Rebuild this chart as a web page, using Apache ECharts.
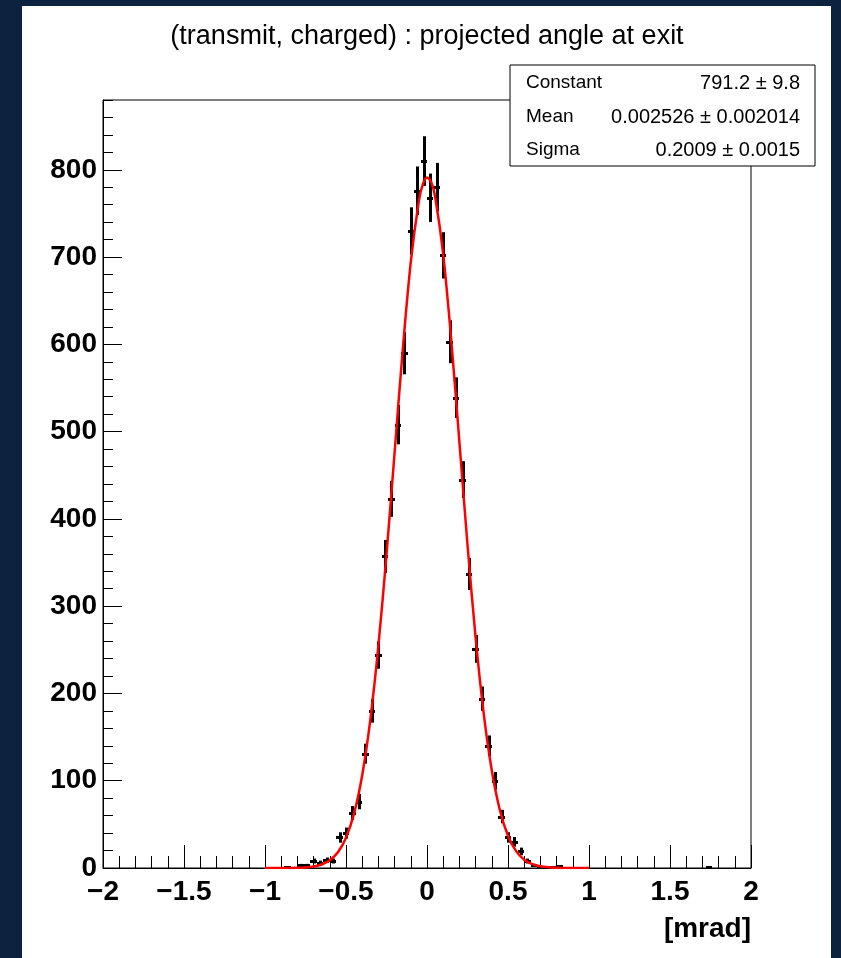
<!DOCTYPE html>
<html>
<head>
<meta charset="utf-8">
<script src="https://cdn.jsdelivr.net/npm/echarts@6/dist/echarts.min.js"></script>
<style>
html,body{margin:0;padding:0;background:#0c2340;width:841px;height:958px;overflow:hidden;}
#c{position:absolute;left:22px;top:6px;width:809px;height:952px;background:#ffffff;}
</style>
</head>
<body>
<div id="c"></div>
<script>
// Histogram bin centres (mrad) and counts (empty bins omitted)
const binCenters = [-0.86,-0.82,-0.78,-0.74,-0.70,-0.66,-0.62,-0.58,-0.54,-0.50,-0.46,-0.42,-0.38,-0.34,-0.30,-0.26,-0.22,-0.18,-0.14,-0.10,-0.06,-0.02,0.02,0.06,0.10,0.14,0.18,0.22,0.26,0.30,0.34,0.38,0.42,0.46,0.50,0.54,0.58,0.62,0.66,0.70,0.74,0.78,0.82,1.74];
const counts     = [1,0,3,3,8,6,9,8,35,40,63,76,131,180,244,357,423,508,590,730,776,810,768,780,702,603,539,445,337,251,194,140,100,59,35,30,19,8,3,1,1,1,2,1];
const binWidth = 0.04;

// Red fit curve
const fitX = [-1.00,-0.95,-0.90,-0.85,-0.80,-0.75,-0.70,-0.65,-0.60,-0.55,-0.50,-0.45,-0.40,-0.35,-0.30,-0.25,-0.20,-0.15,-0.10,-0.05,-0.025,0.00,0.025,0.05,0.10,0.15,0.20,0.25,0.30,0.35,0.40,0.45,0.50,0.55,0.60,0.65,0.70,0.75,0.80,0.85,0.90,0.95,1.00];
const fitY = [0.0,0.01,0.03,0.1,0.27,0.71,1.75,4.05,8.8,18.0,34.7,62.6,106.3,169.7,254.7,359.1,476.1,593.2,694.6,764.6,783.8,791.1,786.3,769.4,703.3,604.3,488.0,370.4,264.3,177.2,111.7,66.2,36.9,19.3,9.5,4.39,1.91,0.78,0.30,0.11,0.04,0.01,0.0];

const xTickValues = [-2,-1.5,-1,-0.5,0,0.5,1,1.5,2];
const yTickValues = [0,100,200,300,400,500,600,700,800];

const statsLabels = ['Constant','Mean','Sigma'];
const statsValues = ['791.2 \u00b1 9.8','0.002526 \u00b1 0.002014','0.2009 \u00b1 0.0015'];

const titleText = '(transmit, charged) : projected angle at exit';
const xName = '[mrad]';

const FONT = '"Liberation Sans", Arial, Helvetica, sans-serif';
const OX = 22, OY = 6; // offset of the white canvas in the page

const chart = echarts.init(document.getElementById('c'), null, {renderer:'canvas'});

const histData = [];
binCenters.forEach((c,i)=>{ if (counts[i] > 0) histData.push([c, counts[i]]); });

const statsGraphics = [{
  type:'rect', z:100,
  shape:{x:510-OX, y:65-OY, width:305, height:101},
  style:{fill:'#ffffff', stroke:'#000000', lineWidth:1}
}];
const rowY = [83,117,150];
statsLabels.forEach((l,i)=>{
  statsGraphics.push({type:'text', z:101, x:526-OX, y:rowY[i]-OY,
    style:{text:l, font:'19px '+FONT, fill:'#000', textAlign:'left', textVerticalAlign:'middle'}});
  statsGraphics.push({type:'text', z:101, x:800-OX, y:rowY[i]-OY,
    style:{text:statsValues[i], font:'20px '+FONT, fill:'#000', textAlign:'right', textVerticalAlign:'middle'}});
});

const fmtX = v => { const r = Math.round(v*10)/10; return (r<0?'\u2212':'') + Math.abs(r); };

const option = {
  animation:false,
  backgroundColor:'#ffffff',
  grid:{left:103-OX, top:100-OY, width:648, height:768, show:true, borderColor:'#000', borderWidth:1, backgroundColor:'transparent'},
  xAxis:[{
    type:'value', min:xTickValues[0], max:xTickValues[xTickValues.length-1], interval:0.5, position:'bottom',
    axisLine:{show:true, onZero:false, lineStyle:{color:'#000', width:1}},
    axisTick:{show:true, inside:true, length:23, lineStyle:{color:'#000', width:1}},
    axisLabel:{show:true, color:'#000', fontFamily:FONT, fontWeight:'bold', fontSize:28, margin:10, formatter:fmtX},
    splitLine:{show:false}
  },{
    type:'value', min:-2, max:2, interval:0.1, position:'bottom',
    axisLine:{show:false, onZero:false},
    axisTick:{show:true, inside:true, length:12, lineStyle:{color:'#000', width:1}},
    axisLabel:{show:false}, splitLine:{show:false}
  }],
  yAxis:[{
    type:'value', min:0, max:880, interval:100, position:'left',
    axisLine:{show:true, onZero:false, lineStyle:{color:'#000', width:1}},
    axisTick:{show:true, inside:true, length:19, lineStyle:{color:'#000', width:1}},
    axisLabel:{show:true, color:'#000', fontFamily:FONT, fontWeight:'bold', fontSize:28, margin:6, showMaxLabel:false,
      formatter: v => (yTickValues.indexOf(Math.round(v))>=0 ? String(Math.round(v)) : '')},
    splitLine:{show:false}
  },{
    type:'value', min:0, max:880, interval:20, position:'left',
    axisLine:{show:false, onZero:false},
    axisTick:{show:true, inside:true, length:10, lineStyle:{color:'#000', width:1}},
    axisLabel:{show:false}, splitLine:{show:false}
  }],
  graphic:[
    {type:'text', z:50, x:427-OX, y:37-OY,
     style:{text:titleText, font:'27px '+FONT, fill:'#000', textAlign:'center', textVerticalAlign:'middle'}},
    {type:'text', z:50, x:751-OX, y:929-OY,
     style:{text:xName, font:'bold 28px '+FONT, fill:'#000', textAlign:'right', textVerticalAlign:'middle'}}
  ].concat(statsGraphics),
  series:[{
    type:'custom', xAxisIndex:0, yAxisIndex:0, z:2, clip:true,
    data:histData,
    renderItem:function(params, api){
      const x = api.value(0), y = api.value(1), e = Math.sqrt(y);
      const top = api.coord([x, y+e]), bot = api.coord([x, Math.max(0,y-e)]);
      const l = api.coord([x-binWidth/2, y]), r = api.coord([x+binWidth/2, y]);
      const cx = Math.round(top[0]) + 0.5, cy = Math.round(l[1]) + 0.5;
      return {type:'group', children:[
        {type:'line', shape:{x1:cx, y1:top[1], x2:cx, y2:bot[1]}, style:{stroke:'#000', lineWidth:3}},
        {type:'line', shape:{x1:Math.round(l[0]), y1:cy, x2:Math.round(r[0]), y2:cy}, style:{stroke:'#000', lineWidth:3}}
      ]};
    }
  },{
    type:'line', xAxisIndex:0, yAxisIndex:0, z:3,
    data:fitX.map((x,i)=>[x, fitY[i]]),
    showSymbol:false, symbol:'none', smooth:0.3,
    lineStyle:{color:'#ff0000', width:2.5}
  }]
};
chart.setOption(option);
</script>
</body>
</html>
